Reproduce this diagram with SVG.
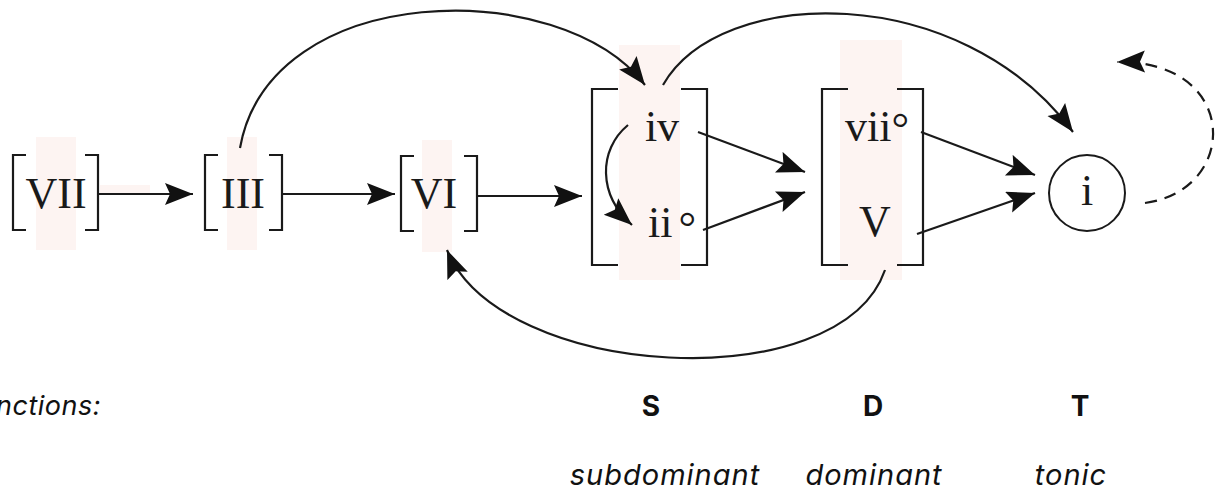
<svg xmlns="http://www.w3.org/2000/svg" width="1215" height="490" viewBox="0 0 1215 490">
<style>
.br{fill:none;stroke:#1a1a1a;stroke-width:2.2}
.rn{font-family:"Liberation Serif",serif;font-size:44px;fill:#1a1a1a;text-anchor:middle}
.c{fill:none;stroke:#1a1a1a;stroke-width:2.2}
.tint{fill:#fdf4f2}
.lab{font-family:Inter,Roboto,"Liberation Sans",sans-serif;fill:#111;text-anchor:middle}
.fn{font-size:28px;font-weight:bold}
.nm{font-size:29px;font-style:italic;letter-spacing:1px}
</style>
<defs>
<marker id="ah" markerUnits="userSpaceOnUse" markerWidth="30" markerHeight="24" refX="28" refY="11" orient="auto">
<path d="M0,0 L28,11 L0,22 L5,11 Z" fill="#111"/>
</marker>
</defs>
<g id="tints">
<rect class="tint" x="36" y="137" width="40" height="113"/>
<rect class="tint" x="227" y="137" width="30" height="113"/>
<rect class="tint" x="422" y="140" width="30" height="112"/>
<rect class="tint" x="619" y="45" width="61" height="235"/>
<rect class="tint" x="840" y="40" width="62" height="240"/>
<rect class="tint" x="100" y="185" width="50" height="10"/>
</g>
<g id="node-VII">
<path class="br" d="M26,155 H13 V230 H26 M85,155 H98 V230 H85"/>
<text class="rn" x="56" y="208">VII</text>
</g>
<g id="node-III">
<path class="br" d="M218,155 H205 V230 H218 M269,155 H282 V230 H269"/>
<text class="rn" x="243" y="208">III</text>
</g>
<g id="node-VI">
<path class="br" d="M414,156 H401 V231 H414 M464,156 H477 V231 H464"/>
<text class="rn" x="434" y="208">VI</text>
</g>
<g id="node-S">
<path class="br" d="M618,89 H592 V265 H618 M681,89 H707 V265 H681"/>
<text class="rn" x="662" y="141">iv</text>
<text class="rn" x="672" y="237">ii<tspan dx="6" dy="5">°</tspan></text>
</g>
<g id="node-D">
<path class="br" d="M848,89 H822 V265 H848 M897,89 H923 V265 H897"/>
<text class="rn" x="877" y="141">vii<tspan dy="2">°</tspan></text>
<text class="rn" x="875" y="236">V</text>
</g>
<g id="node-i">
<circle cx="1087" cy="193" r="38" fill="none" stroke="#1a1a1a" stroke-width="2"/>
<text class="rn" x="1087" y="205">i</text>
</g>
<g id="connectors">
<path class="c" d="M98,194 H193" marker-end="url(#ah)"/>
<path class="c" d="M282,194 H395" marker-end="url(#ah)"/>
<path class="c" d="M477,196 H582" marker-end="url(#ah)"/>
<path class="c" d="M698,132 L805,172" marker-end="url(#ah)"/>
<path class="c" d="M703,230 L805,192" marker-end="url(#ah)"/>
<path class="c" d="M921,132 L1035,175" marker-end="url(#ah)"/>
<path class="c" d="M917,234 L1035,193" marker-end="url(#ah)"/>
<path class="c" d="M628,125 C598,150 598,195 632,225" marker-end="url(#ah)"/>
<path class="c" d="M240,148 C270,-20 560,-25 645,85" marker-end="url(#ah)"/>
<path class="c" d="M663,85 C720,-15 960,-20 1073,132" marker-end="url(#ah)"/>
<path class="c" d="M885,270 C840,400 500,380 447,250" marker-end="url(#ah)"/>
<path class="c" d="M1145,203 C1240,190 1240,60 1117,62" stroke-dasharray="12,8" marker-end="url(#ah)"/>
</g>
<g id="labels">
<text class="lab nm" x="101" y="415" style="text-anchor:end;font-size:27px;letter-spacing:0.5px">Functions:</text>
<text class="lab fn" x="651" y="416">S</text>
<text class="lab fn" x="873" y="416">D</text>
<text class="lab fn" x="1080" y="416">T</text>
<text class="lab nm" x="665" y="485">subdominant</text>
<text class="lab nm" x="874" y="485">dominant</text>
<text class="lab nm" x="1071" y="485">tonic</text>
</g>
</svg>
